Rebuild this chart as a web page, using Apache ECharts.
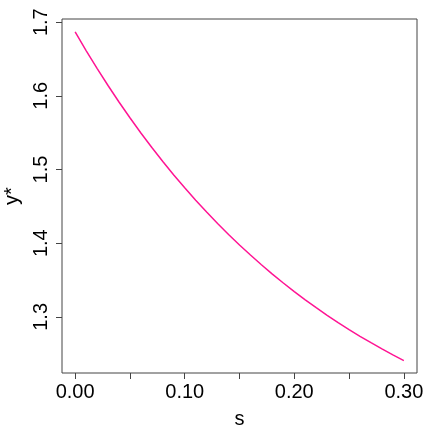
<!DOCTYPE html>
<html>
<head>
<meta charset="utf-8">
<script src="https://cdn.jsdelivr.net/npm/echarts@6/dist/echarts.min.js"></script>
<style>
  html, body { margin: 0; padding: 0; background: #fff; }
  #chart { width: 436px; height: 436px; }
</style>
</head>
<body>
<div id="chart"></div>
<script>
// s values and y*
const sVals = [0.00, 0.01, 0.02, 0.03, 0.04, 0.05, 0.06, 0.07, 0.08, 0.09,
  0.10, 0.11, 0.12, 0.13, 0.14, 0.15, 0.16, 0.17, 0.18, 0.19,
  0.20, 0.21, 0.22, 0.23, 0.24, 0.25, 0.26, 0.27, 0.28, 0.29, 0.30];
const yStar = [1.6868, 1.6615, 1.6373, 1.6140, 1.5916, 1.5702, 1.5496, 1.5298, 1.5108, 1.4926,
  1.4751, 1.4583, 1.4422, 1.4267, 1.4118, 1.3976, 1.3839, 1.3707, 1.3581, 1.3460,
  1.3343, 1.3231, 1.3124, 1.3021, 1.2922, 1.2827, 1.2736, 1.2649, 1.2565, 1.2484, 1.2407];

const xTicks = [0, 0.05, 0.10, 0.15, 0.20, 0.25, 0.30];
const xLabels = [0, 0.10, 0.20, 0.30];
const yTicks = [1.3, 1.4, 1.5, 1.6, 1.7];

const axisColor = '#444';
const font = 'Liberation Sans, Arial, sans-serif';

let myChart = echarts.init(document.getElementById('chart'));
myChart.setOption({
  animation: false,
  grid: {
    left: 62, right: 19, top: 19, bottom: 63,
    outerBoundsMode: 'none',
    containLabel: false,
    show: true, borderColor: axisColor, borderWidth: 1
  },
  xAxis: {
    type: 'value',
    min: -0.012,
    max: 0.312,
    name: 's',
    nameLocation: 'middle',
    nameGap: 36,
    nameTextStyle: { fontSize: 20, color: '#000', fontFamily: font },
    axisLine: { show: false, onZero: false },
    splitLine: { show: false },
    axisTick: { show: true, length: 6, customValues: xTicks, lineStyle: { color: axisColor } },
    axisLabel: {
      customValues: xLabels,
      fontSize: 20, color: '#000', fontFamily: font, margin: 9,
      formatter: function (v) { return v.toFixed(2) }
    }
  },
  yAxis: {
    type: 'value',
    min: 1.2238,
    max: 1.7043,
    name: 'y*',
    nameLocation: 'middle',
    nameGap: 40,
    nameRotate: 90,
    nameTextStyle: { fontSize: 20, color: '#000', fontFamily: font },
    axisLine: { show: false, onZero: false },
    splitLine: { show: false },
    axisTick: { show: true, length: 6, customValues: yTicks, lineStyle: { color: axisColor } },
    axisLabel: {
      customValues: yTicks,
      rotate: 90,
      fontSize: 20, color: '#000', fontFamily: font, margin: 11,
      formatter: function (v) { return v.toFixed(1) }
    }
  },
  series: [
    {
      type: 'line',
      data: sVals.map((s, i) => [s, yStar[i]]),
      showSymbol: false,
      smooth: false,
      lineStyle: { color: '#FF1493', width: 1.5 }
    }
  ]
});
</script>
</body>
</html>
